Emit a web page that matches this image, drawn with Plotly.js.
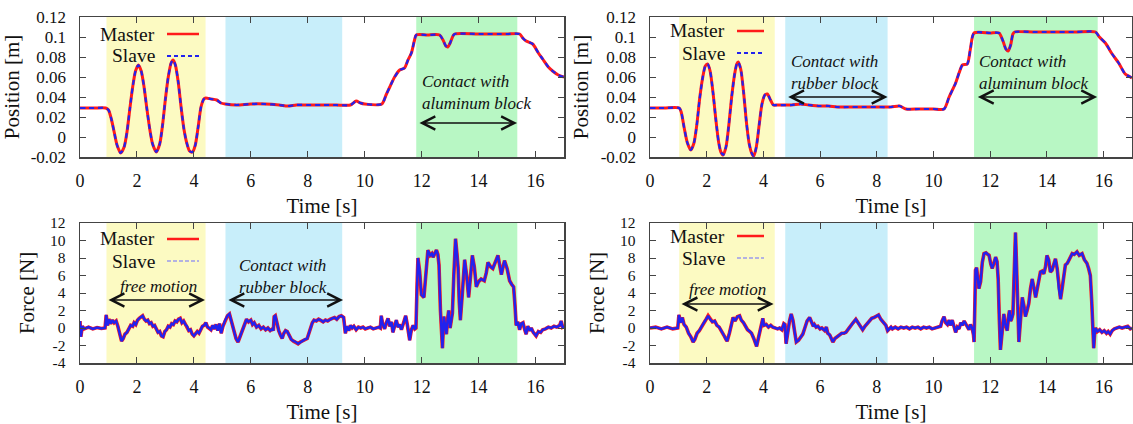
<!DOCTYPE html>
<html><head><meta charset="utf-8">
<script src="https://cdn.plot.ly/plotly-3.0.1.min.js"></script>
<style>html,body{margin:0;padding:0;background:#fff}#chart{width:1133px;height:424px}</style>
</head><body><div id="chart"></div>
<script>
// ---------- data ----------
const xTicks = [0, 2, 4, 6, 8, 10, 12, 14, 16];
const posTicks = [-0.02, 0, 0.02, 0.04, 0.06, 0.08, 0.1, 0.12];
const posTickText = ['-0.02', '0', '0.02', '0.04', '0.06', '0.08', '0.1', '0.12'];
const forceTicks = [-4, -2, 0, 2, 4, 6, 8, 10, 12];
const forceTickText = ['-4', '-2', '0', '2', '4', '6', '8', '10', '12'];

// Left experiment: shaded phases [start, end] in s
const phasesL = {free: [0.93, 4.41], rubber: [5.11, 9.21], alu: [11.81, 15.36]};
// Right experiment
const phasesR = {free: [1.03, 4.40], rubber: [4.77, 8.38], alu: [11.43, 15.79]};

// Left position [m]
const tPosL = [0, 0.5, 0.9, 1.0, 1.1, 1.2, 1.3, 1.43, 1.55, 1.65, 1.75, 1.85, 1.95, 2.05, 2.15, 2.25, 2.35, 2.45, 2.55, 2.68, 2.8, 2.9, 3.0, 3.1, 3.2, 3.27, 3.35, 3.45, 3.55, 3.65, 3.75, 3.85, 3.95, 4.05, 4.15, 4.25, 4.35, 4.42, 4.6, 4.8, 4.95, 5.1, 5.5, 6.0, 6.5, 7.0, 7.3, 7.6, 8.0, 8.5, 9.0, 9.5, 9.7, 9.85, 10.0, 10.6, 10.75, 10.88, 11.05, 11.23, 11.4, 11.52, 11.64, 11.75, 11.81, 12.2, 12.63, 12.75, 12.85, 12.92, 13.0, 13.1, 13.16, 14.0, 15.0, 15.44, 15.55, 15.67, 15.9, 16.1, 16.25, 16.45, 16.6, 16.8, 17.0];
const posMasterL = [0.029, 0.029, 0.029, 0.027, 0.018, 0.005, -0.008, -0.016, -0.010, 0.005, 0.028, 0.050, 0.066, 0.072, 0.066, 0.050, 0.028, 0.008, -0.007, -0.015, -0.007, 0.012, 0.038, 0.060, 0.074, 0.077, 0.072, 0.055, 0.030, 0.008, -0.006, -0.014, -0.015, -0.008, 0.010, 0.030, 0.038, 0.039, 0.038, 0.037, 0.034, 0.033, 0.032, 0.033, 0.033, 0.032, 0.031, 0.032, 0.032, 0.032, 0.032, 0.032, 0.036, 0.034, 0.033, 0.033, 0.042, 0.050, 0.060, 0.067, 0.069, 0.077, 0.084, 0.097, 0.102, 0.102, 0.102, 0.097, 0.091, 0.090, 0.094, 0.101, 0.103, 0.103, 0.103, 0.103, 0.099, 0.096, 0.093, 0.084, 0.078, 0.070, 0.066, 0.062, 0.060];
const posSlaveL = posMasterL.slice(); // slave overlaps master within the line width

// Right position [m]
const tPosR = [0, 0.5, 1.03, 1.1, 1.2, 1.32, 1.44, 1.55, 1.65, 1.75, 1.85, 1.95, 2.03, 2.12, 2.22, 2.32, 2.42, 2.5, 2.58, 2.68, 2.78, 2.88, 2.98, 3.06, 3.11, 3.2, 3.3, 3.4, 3.5, 3.6, 3.66, 3.75, 3.85, 3.95, 4.05, 4.14, 4.25, 4.35, 4.5, 5.0, 5.3, 5.6, 6.0, 6.3, 6.6, 7.0, 7.5, 8.0, 8.5, 8.8, 9.03, 9.5, 10.0, 10.37, 10.55, 10.78, 10.9, 11.02, 11.19, 11.3, 11.43, 12.0, 12.31, 12.45, 12.55, 12.63, 12.72, 12.8, 12.86, 13.5, 14.0, 15.0, 15.71, 15.85, 16.06, 16.3, 16.53, 16.76, 16.94, 17.0];
const posMasterR = [0.029, 0.029, 0.029, 0.025, 0.010, -0.006, -0.013, -0.006, 0.012, 0.038, 0.058, 0.071, 0.073, 0.066, 0.045, 0.018, -0.005, -0.015, -0.018, -0.010, 0.012, 0.040, 0.062, 0.073, 0.075, 0.068, 0.045, 0.015, -0.007, -0.017, -0.019, -0.010, 0.012, 0.033, 0.042, 0.043, 0.037, 0.032, 0.032, 0.032, 0.033, 0.032, 0.031, 0.031, 0.030, 0.030, 0.030, 0.030, 0.030, 0.031, 0.028, 0.028, 0.028, 0.028, 0.040, 0.054, 0.064, 0.072, 0.073, 0.088, 0.104, 0.104, 0.104, 0.096, 0.088, 0.086, 0.092, 0.103, 0.105, 0.105, 0.105, 0.105, 0.105, 0.100, 0.094, 0.083, 0.074, 0.063, 0.060, 0.059];
const posSlaveR = posMasterR.slice();

// Left force [N]
const tForceL = [0, 0.03, 0.08, 0.15, 0.3, 0.45, 0.6, 0.75, 0.88, 0.92, 0.97, 1.02, 1.08, 1.14, 1.2, 1.27, 1.33, 1.4, 1.46, 1.52, 1.58, 1.65, 1.72, 1.78, 1.85, 1.9, 1.96, 2.02, 2.08, 2.14, 2.2, 2.26, 2.32, 2.38, 2.44, 2.5, 2.56, 2.62, 2.68, 2.74, 2.8, 2.86, 2.92, 2.98, 3.04, 3.1, 3.16, 3.22, 3.28, 3.34, 3.4, 3.46, 3.52, 3.58, 3.64, 3.7, 3.76, 3.82, 3.88, 3.94, 4.0, 4.06, 4.12, 4.18, 4.24, 4.3, 4.36, 4.42, 4.48, 4.54, 4.6, 4.66, 4.72, 4.78, 4.84, 4.9, 4.96, 5.02, 5.1, 5.18, 5.25, 5.32, 5.4, 5.48, 5.55, 5.62, 5.7, 5.78, 5.85, 5.92, 6.0, 6.06, 6.12, 6.2, 6.28, 6.36, 6.44, 6.52, 6.6, 6.68, 6.76, 6.79, 6.82, 6.86, 6.92, 6.98, 7.04, 7.1, 7.16, 7.22, 7.28, 7.34, 7.42, 7.5, 7.58, 7.66, 7.74, 7.82, 7.9, 7.98, 8.04, 8.1, 8.16, 8.22, 8.3, 8.38, 8.46, 8.54, 8.62, 8.7, 8.78, 8.86, 8.94, 9.02, 9.1, 9.18, 9.26, 9.32, 9.38, 9.44, 9.5, 9.56, 9.62, 9.7, 9.78, 9.86, 9.94, 10.02, 10.1, 10.2, 10.3, 10.4, 10.5, 10.55, 10.58, 10.63, 10.7, 10.76, 10.82, 10.88, 10.94, 10.99, 11.05, 11.11, 11.17, 11.23, 11.29, 11.35, 11.44, 11.5, 11.55, 11.58, 11.64, 11.7, 11.76, 11.8, 11.84, 11.87, 11.93, 11.99, 12.08, 12.15, 12.22, 12.3, 12.36, 12.4, 12.46, 12.52, 12.57, 12.61, 12.66, 12.73, 12.78, 12.83, 12.87, 12.91, 12.95, 13.0, 13.04, 13.08, 13.13, 13.19, 13.24, 13.28, 13.32, 13.36, 13.43, 13.51, 13.58, 13.65, 13.72, 13.78, 13.85, 13.92, 14.0, 14.09, 14.2, 14.27, 14.33, 14.42, 14.5, 14.58, 14.68, 14.75, 14.8, 14.86, 14.91, 15.0, 15.09, 15.16, 15.23, 15.28, 15.32, 15.38, 15.44, 15.5, 15.56, 15.62, 15.67, 15.73, 15.8, 15.85, 15.92, 16.02, 16.1, 16.18, 16.25, 16.35, 16.45, 16.55, 16.65, 16.75, 16.85, 16.9, 16.95, 17.0];
const forceMasterL = [0.8, -1.0, 0.2, -0.1, 0.1, -0.1, 0.05, -0.05, 0.0, 1.5, 0.3, 1.0, 0.5, 0.9, 0.6, 0.8, 0.2, -0.8, -1.5, -1.2, -0.7, -0.5, -0.1, 0.3, 0.2, 0.6, 0.4, 0.9, 1.1, 1.3, 1.4, 1.0, 0.8, 0.9, 0.5, 0.6, 0.2, 0.3, -0.2, -0.5, -0.4, -0.9, -1.0, -0.4, -0.2, 0.2, 0.1, 0.5, 0.4, 0.8, 0.7, 1.0, 1.1, 0.6, 0.8, 0.4, 0.2, -0.3, -0.2, -0.7, -0.9, -0.6, -0.4, -0.6, -0.1, 0.2, 0.3, 0.6, 0.1, 0.0, -0.2, 0.3, -0.1, 0.4, -0.3, 0.5, -0.6, 0.2, 0.9, 1.4, 1.6, 0.8, -0.3, -1.2, -1.6, -1.0, -0.2, 0.5, 1.0, 0.7, 0.9, 0.4, 0.6, 0.1, 0.3, -0.1, 0.1, -0.2, 0.0, -0.3, -0.1, -0.3, 1.3, 1.4, 0.5, -0.3, -0.8, -1.2, -0.6, -0.3, -0.4, -0.8, -1.3, -1.5, -1.6, -1.8, -1.6, -1.5, -1.3, -1.2, -0.6, 0.2, 0.6, 0.9, 0.8, 1.0, 0.9, 0.7, 0.9, 0.8, 1.0, 1.1, 1.2, 1.0, 1.3, 1.4, 1.2, -0.6, 0.2, -0.3, 0.3, 0.0, 0.2, -0.2, 0.1, 0.0, 0.1, -0.1, 0.0, 0.1, -0.1, 0.0, 0.1, 0.0, 1.4, 0.5, -0.1, 0.6, 1.1, 0.2, 0.7, -0.5, 0.3, 0.9, 0.1, 0.4, -0.2, 0.5, 1.4, 0.3, -0.7, -1.4, -0.2, 0.3, -0.1, 0.0, 5.0, 8.0, 6.5, 3.8, 3.5, 6.5, 8.9, 8.3, 8.5, 8.1, 8.6, 8.9, 8.4, 7.2, 2.0, -2.3, 1.3, 0.0, -0.7, 1.0, 2.0, 0.0, 1.0, 1.7, 6.0, 10.2, 8.5, 6.9, 3.0, 0.9, 4.0, 7.8, 6.0, 3.5, 6.0, 8.3, 7.0, 4.7, 5.3, 5.6, 5.4, 6.3, 7.5, 7.0, 6.8, 7.5, 8.3, 7.0, 6.1, 7.0, 7.7, 6.8, 5.4, 5.0, 4.7, 2.5, 0.3, 0.7, -0.2, 0.5, 0.6, -0.2, -0.7, 0.2, -0.3, 0.0, -0.5, -0.9, -0.4, -0.5, -0.2, -0.1, 0.1, 0.0, 0.2, 0.1, 0.3, 0.8, 0.1, 0.2];
const forceSlaveL = forceMasterL.slice();

// Right force [N]
const tForceR = [0, 0.2, 0.4, 0.6, 0.8, 0.98, 1.02, 1.08, 1.14, 1.2, 1.28, 1.36, 1.44, 1.52, 1.58, 1.66, 1.74, 1.82, 1.9, 1.98, 2.05, 2.12, 2.2, 2.28, 2.36, 2.44, 2.52, 2.6, 2.68, 2.72, 2.8, 2.86, 2.93, 3.0, 3.08, 3.16, 3.22, 3.3, 3.36, 3.44, 3.52, 3.58, 3.66, 3.72, 3.76, 3.82, 3.87, 3.93, 3.98, 4.02, 4.1, 4.18, 4.26, 4.33, 4.42, 4.5, 4.57, 4.65, 4.72, 4.76, 4.8, 4.86, 4.92, 4.98, 5.04, 5.1, 5.16, 5.24, 5.32, 5.39, 5.46, 5.54, 5.63, 5.7, 5.76, 5.8, 5.86, 5.92, 6.0, 6.06, 6.1, 6.16, 6.22, 6.27, 6.34, 6.4, 6.45, 6.52, 6.6, 6.68, 6.76, 6.84, 6.91, 7.0, 7.08, 7.16, 7.26, 7.34, 7.42, 7.5, 7.58, 7.66, 7.74, 7.82, 7.9, 7.98, 8.06, 8.14, 8.22, 8.32, 8.38, 8.44, 8.5, 8.55, 8.65, 8.75, 8.85, 8.95, 9.05, 9.15, 9.25, 9.35, 9.45, 9.55, 9.65, 9.75, 9.85, 9.95, 10.05, 10.15, 10.25, 10.3, 10.37, 10.43, 10.49, 10.55, 10.6, 10.66, 10.72, 10.78, 10.84, 10.9, 10.96, 11.02, 11.08, 11.14, 11.2, 11.25, 11.3, 11.36, 11.41, 11.43, 11.46, 11.48, 11.52, 11.56, 11.6, 11.66, 11.72, 11.78, 11.85, 11.92, 11.96, 12.02, 12.07, 12.13, 12.19, 12.24, 12.28, 12.32, 12.36, 12.42, 12.48, 12.54, 12.6, 12.65, 12.68, 12.72, 12.75, 12.8, 12.84, 12.89, 12.92, 12.95, 12.98, 13.01, 13.07, 13.13, 13.19, 13.24, 13.3, 13.36, 13.42, 13.48, 13.54, 13.6, 13.66, 13.72, 13.77, 13.83, 13.89, 13.95, 14.0, 14.06, 14.12, 14.18, 14.24, 14.3, 14.36, 14.42, 14.48, 14.54, 14.6, 14.65, 14.72, 14.8, 14.89, 14.96, 15.06, 15.14, 15.24, 15.32, 15.41, 15.47, 15.53, 15.58, 15.62, 15.65, 15.68, 15.71, 15.78, 15.86, 15.94, 16.02, 16.1, 16.16, 16.23, 16.3, 16.38, 16.47, 16.55, 16.65, 16.76, 16.85, 16.94, 17.0];
const forceMasterR = [0.0, 0.1, -0.1, 0.1, -0.1, 0.0, 1.5, 0.6, 1.2, 0.4, 0.1, -0.6, -1.0, -1.6, -1.3, -0.6, -0.3, 0.2, 0.6, 1.0, 1.4, 1.0, 0.7, 0.8, 0.3, 0.1, -0.3, -0.8, -1.3, -1.5, -0.6, 0.3, 1.2, 0.8, 1.3, 1.4, 0.9, 0.6, 0.2, -0.2, -0.4, -0.6, -1.2, -1.9, -2.1, -1.2, -0.6, 0.4, 1.1, 0.3, 0.4, 0.1, 0.3, 0.1, 0.0, -0.1, 0.0, -0.2, 0.5, 0.4, -1.8, -0.4, 0.8, 1.6, 0.9, -0.4, -1.6, -1.4, -1.0, -0.7, 0.0, 0.8, 1.2, 0.6, 0.2, 0.4, 0.1, 0.2, -0.1, 0.0, -0.1, -0.3, 0.1, -0.6, -0.8, -1.3, -1.6, -1.2, -1.0, -0.8, -0.6, -0.6, -0.5, -0.1, 0.3, 0.6, 1.0, 0.6, 0.3, -0.2, 0.2, 0.5, 0.9, 1.1, 1.2, 1.4, 1.5, 1.0, 0.7, 0.3, -0.3, -0.1, 0.1, -0.1, 0.1, -0.1, 0.1, 0.0, 0.1, -0.1, 0.1, 0.0, 0.1, -0.1, 0.1, 0.0, 0.1, -0.1, 0.0, 0.1, 0.2, 0.8, 1.3, 0.6, 0.4, 0.9, 0.3, 0.9, 0.2, -0.5, 0.1, -0.1, 0.6, 0.3, 0.8, 0.5, 0.2, -0.2, 0.4, 0.0, -0.8, -1.6, 3.0, 6.6, 6.9, 5.5, 4.5, 5.3, 7.5, 8.5, 8.6, 8.4, 8.3, 7.3, 6.8, 7.4, 8.1, 7.6, 5.6, 1.0, -2.5, -0.5, 1.6, 0.3, -0.3, 1.4, 2.0, 0.8, 1.0, 1.6, 5.0, 10.9, 8.0, 4.7, 1.0, -1.6, 1.0, 3.5, 2.5, 1.3, 2.0, 2.8, 4.5, 5.6, 4.6, 3.5, 4.5, 5.8, 6.4, 6.5, 6.2, 7.0, 8.3, 7.8, 6.4, 6.6, 7.3, 7.9, 6.8, 4.5, 3.3, 4.6, 6.3, 7.2, 7.4, 7.9, 8.5, 8.4, 8.7, 8.3, 8.5, 7.8, 7.4, 6.8, 6.0, 3.0, -0.5, -2.3, -0.8, 0.0, -0.4, -0.2, -0.5, -0.3, -0.6, -0.4, -0.7, -0.3, -0.1, 0.0, 0.1, 0.0, 0.1, 0.2, -0.1, 0.0];
const forceSlaveR = forceMasterR.slice();

// ---------- styling & layout ----------
const W = 1133, H = 424;
const FONT = '"Liberation Serif", "Times New Roman", Times, serif';
const RED = '#ff1a1a', BLUE = '#2222ee';
const COL = {free: '#fcfac2', rubber: '#c8eefa', alu: '#b8f7c4'};
const px = v => v / W, py = v => 1 - v / H;

function series(t, m, s, xa, ya, isPos) {
  return [
    {x: t, y: m, xaxis: xa, yaxis: ya, type: 'scatter', mode: 'lines', name: 'Master', showlegend: false,
     line: {color: RED, width: isPos ? 3 : 3.6, shape: isPos ? 'spline' : 'linear', smoothing: 0.7}, hoverinfo: 'skip'},
    {x: t, y: s, xaxis: xa, yaxis: ya, type: 'scatter', mode: 'lines', name: 'Slave', showlegend: false,
     line: {color: BLUE, width: isPos ? 2.2 : 2.4, dash: isPos ? '5px,4px' : 'solid', shape: isPos ? 'spline' : 'linear', smoothing: 0.7}, hoverinfo: 'skip'}
  ];
}
const data = [].concat(
  series(tPosL, posMasterL, posSlaveL, 'x', 'y', true),
  series(tPosR, posMasterR, posSlaveR, 'x2', 'y2', true),
  series(tForceL, forceMasterL, forceSlaveL, 'x3', 'y3', false),
  series(tForceR, forceMasterR, forceSlaveR, 'x4', 'y4', false)
);

const titleFont = {family: FONT, size: 21, color: '#111'};
function xAx(dom) {
  return {domain: dom, range: [0, 17], tickvals: xTicks, ticks: 'inside', ticklen: 6, tickwidth: 1, tickcolor: '#444',
    showline: true, mirror: 'ticks', linecolor: '#444', linewidth: 1.5, showgrid: false, zeroline: false,
    tickfont: {family: FONT, size: 18, color: '#111'}, ticklabelstandoff: 7, title: {text: 'Time [s]', font: titleFont, standoff: 8}};
}
function yAx(dom, anchor, isPos) {
  return {domain: dom, anchor: anchor, range: isPos ? [-0.02, 0.12] : [-4, 12],
    tickvals: isPos ? posTicks : forceTicks, ticktext: isPos ? posTickText : forceTickText,
    ticks: 'inside', ticklen: 6, tickwidth: 1, tickcolor: '#444',
    showline: true, mirror: 'ticks', linecolor: '#444', linewidth: 1.5, showgrid: false, zeroline: false,
    tickfont: {family: FONT, size: isPos ? 17 : 15.5, color: '#111'}, ticklabelstandoff: isPos ? 9 : 10,
    title: {text: isPos ? 'Position [m]' : 'Force [N]', font: titleFont, standoff: isPos ? 6 : 9}};
}
const xL = [px(80), px(564)], xR = [px(650), px(1132)];
const yT = [py(157), py(17)], yB = [py(363), py(223)];

const shapes = [];
function shade(phases, xa, ya) {
  for (const k of ['free', 'rubber', 'alu']) {
    shapes.push({type: 'rect', xref: xa, yref: ya + ' domain',
      x0: phases[k][0], x1: phases[k][1], y0: 0, y1: 1, fillcolor: COL[k], line: {width: 0}, layer: 'below'});
  }
}
shade(phasesL, 'x', 'y'); shade(phasesR, 'x2', 'y2');
shade(phasesL, 'x3', 'y3'); shade(phasesR, 'x4', 'y4');

const annotations = [];
// legends: text then line sample (gnuplot style)
function legend(textRight, lineX0, lineX1, yM, yS, slaveKey) {
  annotations.push({xref: 'paper', yref: 'paper', x: px(textRight), y: py(yM), xanchor: 'right', yanchor: 'middle',
    text: 'Master', showarrow: false, font: {family: FONT, size: 19.5, color: '#111'}});
  annotations.push({xref: 'paper', yref: 'paper', x: px(textRight), y: py(yS), xanchor: 'right', yanchor: 'middle',
    text: 'Slave', showarrow: false, font: {family: FONT, size: 19.5, color: '#111'}});
  shapes.push({type: 'line', xref: 'paper', yref: 'paper', x0: px(lineX0), x1: px(lineX1), y0: py(yM), y1: py(yM),
    line: {color: RED, width: 2.5}});
  shapes.push({type: 'line', xref: 'paper', yref: 'paper', x0: px(lineX0), x1: px(lineX1), y0: py(yS), y1: py(yS),
    line: slaveKey});
}
const posKey = {color: BLUE, width: 2, dash: '4px,3px'};
const forceKey = {color: '#6b6bff', width: 1.2, dash: '4px,2px'};
legend(157, 167, 199, 34, 56, posKey);
legend(727, 737, 764, 31, 53, posKey);
legend(157, 167, 199, 239, 261, forceKey);
legend(727, 737, 764, 236, 258, forceKey);

const italic = {family: FONT, size: 17, color: '#111', style: 'italic'};
function label(xa, ya, x, y, text) {
  annotations.push({xref: xa, yref: ya, x: x, y: y, xanchor: 'left', yanchor: 'middle', align: 'left', text: text,
    showarrow: false, font: italic});
}
function arrow(xa, ya, x0, x1, y) {
  annotations.push({xref: xa, yref: ya, axref: xa, ayref: ya, x: x1, y: y, ax: x0, ay: y, text: '',
    showarrow: true, arrowside: 'end+start', arrowhead: 5, startarrowhead: 5, arrowsize: 1.6, startarrowsize: 1.6,
    arrowwidth: 1.6, arrowcolor: '#111', standoff: 0, startstandoff: 0});
}
// left-top: aluminum
label('x', 'y', 11.94, 0.045, 'Contact with<br>aluminum block');
arrow('x', 'y', 11.87, 15.35, 0.014);
// right-top: rubber & aluminum
label('x2', 'y2', 4.89, 0.065, 'Contact with<br>rubber block');
arrow('x2', 'y2', 4.82, 8.38, 0.040);
label('x2', 'y2', 11.55, 0.065, 'Contact with<br>aluminum block');
arrow('x2', 'y2', 11.51, 15.77, 0.040);
// left-bottom
label('x3', 'y3', 1.33, 4.8, 'free motion');
arrow('x3', 'y3', 0.95, 4.39, 3.2);
label('x3', 'y3', 5.51, 5.85, 'Contact with<br>rubber block');
arrow('x3', 'y3', 5.16, 9.24, 3.2);
// right-bottom
label('x4', 'y4', 1.30, 4.35, 'free motion');
arrow('x4', 'y4', 1.06, 4.36, 2.74);

const layout = {
  width: W, height: H, margin: {l: 0, r: 0, t: 0, b: 0}, paper_bgcolor: '#fff', plot_bgcolor: 'rgba(0,0,0,0)',
  showlegend: false, font: {family: FONT, color: '#111'},
  xaxis: Object.assign(xAx(xL), {anchor: 'y'}),
  xaxis2: Object.assign(xAx(xR), {anchor: 'y2'}),
  xaxis3: Object.assign(xAx(xL), {anchor: 'y3'}),
  xaxis4: Object.assign(xAx(xR), {anchor: 'y4'}),
  yaxis: yAx(yT, 'x', true),
  yaxis2: yAx(yT, 'x2', true),
  yaxis3: yAx(yB, 'x3', false),
  yaxis4: yAx(yB, 'x4', false),
  shapes: shapes, annotations: annotations
};
Plotly.newPlot('chart', data, layout, {staticPlot: true, displayModeBar: false});
</script>
</body></html>
